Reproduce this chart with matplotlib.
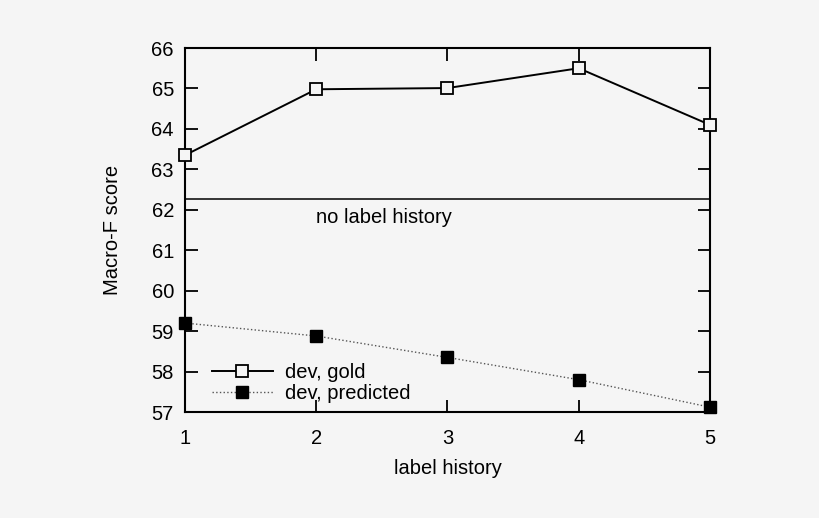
import numpy as np
import matplotlib.pyplot as plt

plt.rcParams['font.family'] = ['Liberation Sans', 'DejaVu Sans']

history = [1, 2, 3, 4, 5]
gold = [63.35, 64.98, 65.01, 65.5, 64.1]
predicted = [59.2, 58.88, 58.35, 57.8, 57.12]
no_history = 62.27

bg = '#f5f5f5'
fs = 14.5
fig = plt.figure(figsize=(8.2, 5.18), dpi=100, facecolor=bg)
ax = fig.add_axes([0.2256, 0.2046, 0.6402, 0.7027], facecolor=bg)

ax.axhline(no_history, color='black', lw=1.1)
ax.text(2, 61.8, 'no label history', fontsize=fs, ha='left', va='center')

ax.plot(history, gold, '-', color='black', lw=1.4, marker='s', ms=8,
        mfc=bg, mec='black', mew=1.3, label='dev, gold', clip_on=False, zorder=3)
ax.plot(history, predicted, ':', color='#555555', lw=1.0, marker='s', ms=8,
        mfc='black', mec='black', label='dev, predicted', clip_on=False, zorder=3)

ax.set_xlim(1, 5)
ax.set_ylim(57, 66)
ax.set_xticks(history)
ax.set_yticks(np.arange(57, 67, 1))
ax.tick_params(direction='in', length=9, width=1.3, top=True, right=True,
               labelsize=fs)
ax.tick_params(axis='y', pad=8)
ax.tick_params(axis='x', pad=12)
for s in ax.spines.values():
    s.set_linewidth(1.5)

ax.set_xlabel('label history', fontsize=fs, labelpad=8)
ax.set_ylabel('Macro-F score', fontsize=fs, labelpad=21)

ax.legend(loc='lower left', bbox_to_anchor=(0.025, -0.014), frameon=False,
          fontsize=fs, handlelength=3.0, handletextpad=0.6,
          labelspacing=0.1, borderaxespad=0.3)

fig.savefig('out.png', dpi=100, facecolor=bg)
